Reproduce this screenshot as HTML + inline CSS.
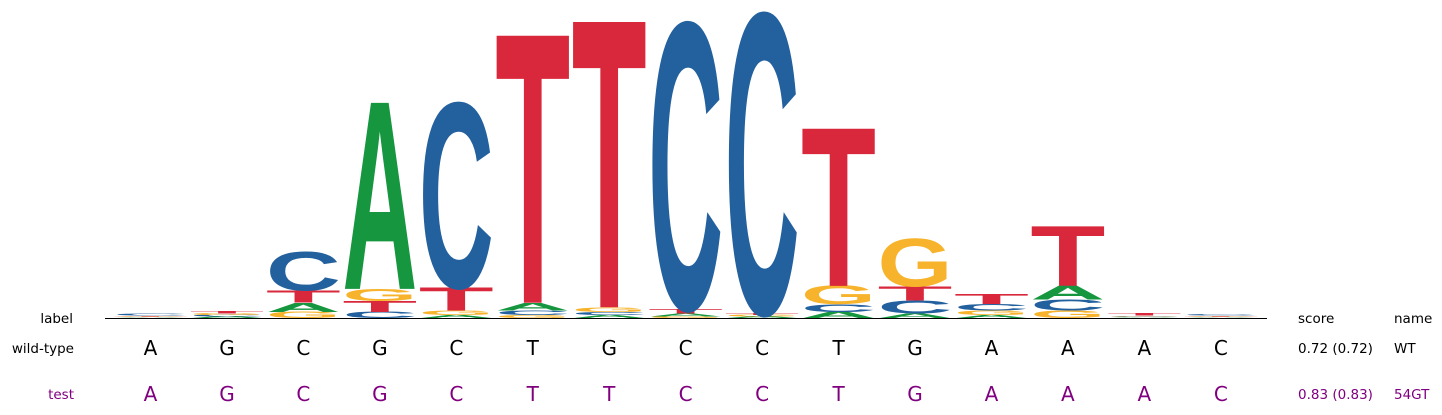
<!DOCTYPE html>
<html><head><meta charset="utf-8"><style>
body{margin:0;background:#fff;width:1442px;height:415px;overflow:hidden;font-family:"DejaVu Sans",sans-serif}
svg{display:block}
svg text.lbl{font-family:"DejaVu Sans",sans-serif}
</style></head><body>
<svg id="chart" width="1442" height="415" xmlns="http://www.w3.org/2000/svg">
<g id="logo"></g>
<line x1="105" y1="318.5" x2="1267" y2="318.5" stroke="#000" stroke-width="1"/>
<text class="lbl" x="73" y="323" font-size="13.5" text-anchor="end">label</text>
<text class="lbl" x="1298" y="323" font-size="13.5">score</text>
<text class="lbl" x="1394" y="323" font-size="13.5">name</text>
<text class="lbl" x="74" y="353" font-size="13.5" text-anchor="end">wild-type</text>
<text class="lbl" x="74" y="399" font-size="13.5" text-anchor="end" fill="#800080">test</text>
<text class="lbl" x="1298" y="353" font-size="13.5">0.72 (0.72)</text>
<text class="lbl" x="1394" y="353" font-size="13.5">WT</text>
<text class="lbl" x="1298" y="399" font-size="13.5" fill="#800080">0.83 (0.83)</text>
<text class="lbl" x="1394" y="399" font-size="13.5" fill="#800080">54GT</text>
<g id="seqs"></g>
</svg>
<script>
const wtSeq = ["A","G","C","G","C","T","G","C","C","T","G","A","A","A","C"];
const testSeq = ["A","G","C","G","C","T","T","C","C","T","G","A","A","A","C"];
const heightA = [0.005,0.01,0.06,1.22,0.02,0.05,0.02,0.02,0.01,0.04,0.03,0.02,0.09,0.005,0.005];
const heightC = [0.01,0.01,0.25,0.04,1.20,0.03,0.02,1.86,1.95,0.05,0.085,0.04,0.07,0.005,0.008];
const heightG = [0.005,0.01,0.04,0.08,0.03,0.02,0.03,0.01,0.01,0.12,0.31,0.03,0.05,0.005,0.005];
const heightT = [0.005,0.015,0.08,0.07,0.15,1.75,1.87,0.03,0.01,1.03,0.09,0.065,0.39,0.015,0.005];

const NS="http://www.w3.org/2000/svg";
const colors={A:"#16963f",C:"#23609e",G:"#f7b32b",T:"#d9283b"};
const x0=113, step=76.45, letterW=75, baseY=318, pxPerBit=153;
const xPos=i=>x0+i*step;
const yScale=b=>b*pxPerBit;
const logo=document.getElementById('logo');
for(let i=0;i<wtSeq.length;i++){
  const items=[["A",heightA[i]],["C",heightC[i]],["G",heightG[i]],["T",heightT[i]]].sort((a,b)=>a[1]-b[1]);
  let y=baseY;
  items.forEach(([l,h])=>{
    const ph=yScale(h);
    const t=document.createElementNS(NS,'text');
    
    
    t.setAttribute('x',0);t.setAttribute('y',0);
    t.setAttribute('font-family','Liberation Sans, sans-serif');
    t.setAttribute('font-size',100);t.setAttribute('font-weight','bold');
    t.setAttribute('textLength',letterW);t.setAttribute('lengthAdjust','spacingAndGlyphs');
    t.setAttribute('fill',colors[l]);
    t.setAttribute('transform',`translate(${xPos(i)},${y}) scale(1,${ph/69})`);
    t.textContent=l;
    logo.appendChild(t);
    y-=ph;
  });
}
const seqs=document.getElementById('seqs');
[[wtSeq,357,"#000","wild-type"],[testSeq,403,"#800080","test"]].forEach(([s,y,c,n])=>{
  s.forEach((l,i)=>{
    const t=document.createElementNS(NS,'text');
    
    
    t.setAttribute('class','lbl');
    t.setAttribute('x',xPos(i)+letterW/2);t.setAttribute('y',y-2);
    t.setAttribute('font-size',20);t.setAttribute('text-anchor','middle');t.setAttribute('fill',c);
    t.textContent=l;seqs.appendChild(t);
  });
});
</script>
</body></html>
